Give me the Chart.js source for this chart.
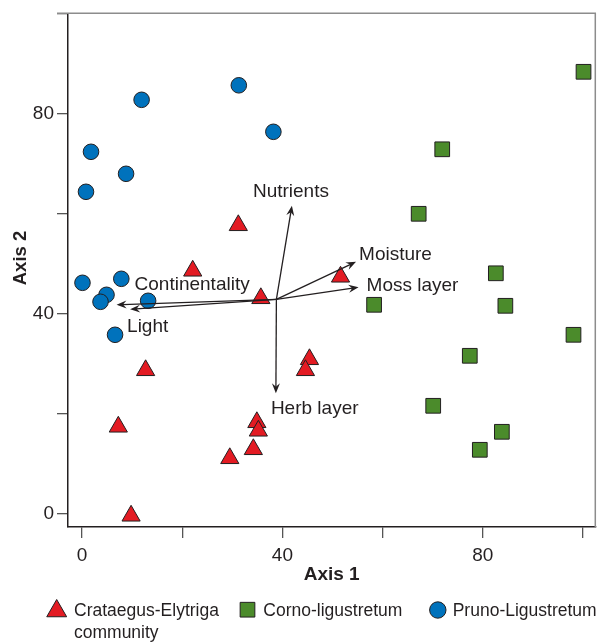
<!DOCTYPE html>
<html>
<head>
<meta charset="utf-8">
<script src="https://cdn.jsdelivr.net/npm/chart.js@4.4.1/dist/chart.umd.min.js"></script>
<style>
  html, body { margin: 0; padding: 0; background: #fff; }
</style>
</head>
<body>
<canvas id="ordination" width="597" height="642"></canvas>
<script>
// site scores
const crataegusX = [31.2, 22.1, 35.7, 51.6, 12.7, 7.25, 34.9, 35.2, 34.2, 29.5, 9.8, 45.4, 44.6];
const crataegusY = [57.6, 48.5, 43.0, 47.3, 28.6, 17.3, 18.2, 16.5, 12.8, 11.0, -0.5, 30.8, 28.6];

const cornoX = [100.1, 71.9, 67.2, 82.6, 58.3, 84.5, 98.1, 77.4, 70.1, 83.8, 79.4];
const cornoY = [88.3, 72.8, 59.9, 48.0, 41.7, 41.5, 35.7, 31.5, 21.5, 16.3, 12.7];

const prunoX = [11.9, 31.3, 38.2, 1.8, 8.8, 0.8, 0.1, 7.85, 4.9, 3.7, 13.2, 6.6];
const prunoY = [82.7, 85.6, 76.3, 72.3, 67.9, 64.3, 46.1, 46.9, 43.7, 42.3, 42.5, 35.7];

// environmental vectors (joint plot)
const vectorNames = ['Nutrients', 'Moisture', 'Moss layer', 'Continentality', 'Light', 'Herb layer'];
const vectorOrigin = [38.8, 42.8];
const vectorX = [41.9, 54.7, 55.2, 6.9, 9.6, 38.7];
const vectorY = [61.5, 50.3, 45.2, 41.7, 40.8, 24.0];

const tickValues = [0, 20, 40, 60, 80, 100];
const tickLabels = [0, 40, 80];

const groupNames = ['Crataegus-Elytriga|community', 'Corno-ligustretum', 'Pruno-Ligustretum'];

// label placement relative to each arrow tip (px)
const labelOffsets = [[-39, -14], [3, -7], [8, -2], [18, -20], [-3, 17], [-5, 15]];

const FONT = "'Liberation Sans', Arial, Helvetica, sans-serif";
const INK = '#231f20';
const RED = '#e31b23', GREEN = '#4b8b2b', BLUE = '#0072bc';

const toPoints = (xs, ys) => xs.map((x, i) => ({ x: x, y: ys[i] }));

function arrowHead(ctx, x1, y1, x2, y2) {
  const a = Math.atan2(y2 - y1, x2 - x1);
  ctx.save();
  ctx.translate(x2, y2);
  ctx.rotate(a);
  ctx.beginPath();
  ctx.moveTo(0, 0);
  ctx.lineTo(-10, -4);
  ctx.lineTo(-6.5, 0);
  ctx.lineTo(-10, 4);
  ctx.closePath();
  ctx.fill();
  ctx.restore();
}

const extras = {
  id: 'extras',
  beforeDatasetsDraw(chart) {
    const { ctx, chartArea: ca } = chart;
    // grey frame on top and right
    ctx.save();
    ctx.strokeStyle = '#8c8c8c';
    ctx.lineWidth = 1.5;
    ctx.beginPath();
    ctx.moveTo(ca.left - 11, ca.top);
    ctx.lineTo(ca.right, ca.top);
    ctx.lineTo(ca.right, ca.bottom);
    ctx.stroke();
    ctx.restore();

    // y axis title (sits a little above the middle in the original)
    ctx.save();
    ctx.translate(20.5, 258);
    ctx.rotate(-Math.PI / 2);
    ctx.fillStyle = INK;
    ctx.font = 'bold 18.5px ' + FONT;
    ctx.textAlign = 'center';
    ctx.textBaseline = 'middle';
    ctx.fillText('Axis 2', 0, 0);
    ctx.restore();
  },
  afterDatasetsDraw(chart) {
    const { ctx, scales: { x, y } } = chart;
    const ox = x.getPixelForValue(vectorOrigin[0]);
    const oy = y.getPixelForValue(vectorOrigin[1]);
    ctx.save();
    ctx.strokeStyle = INK;
    ctx.fillStyle = INK;
    ctx.lineWidth = 1.3;
    vectorNames.forEach((name, i) => {
      const tx = x.getPixelForValue(vectorX[i]);
      const ty = y.getPixelForValue(vectorY[i]);
      const len = Math.hypot(tx - ox, ty - oy);
      const ex = tx - (tx - ox) / len * 6;
      const ey = ty - (ty - oy) / len * 6;
      ctx.beginPath();
      ctx.moveTo(ox, oy);
      ctx.lineTo(ex, ey);
      ctx.stroke();
      arrowHead(ctx, ox, oy, tx, ty);
      ctx.font = '19px ' + FONT;
      ctx.textAlign = 'left';
      ctx.textBaseline = 'middle';
      ctx.fillText(name, tx + labelOffsets[i][0], ty + labelOffsets[i][1]);
    });
    ctx.restore();
  },
  afterDraw(chart) {
    const { ctx } = chart;
    const ds = chart.data.datasets;
    const marks = [[56.7, 611], [247.5, 609.7], [437.8, 610]];
    const textX = [74, 263.3, 452.7];
    ctx.save();
    ds.forEach((d, i) => {
      ctx.fillStyle = d.backgroundColor;
      ctx.strokeStyle = d.borderColor;
      ctx.lineWidth = 1;
      Chart.helpers.drawPoint(ctx, {
        pointStyle: d.pointStyle,
        radius: d.legendRadius,
        rotation: 0,
        borderWidth: 1
      }, marks[i][0], marks[i][1]);
      ctx.fillStyle = INK;
      ctx.font = '17.5px ' + FONT;
      ctx.textAlign = 'left';
      ctx.textBaseline = 'middle';
      groupNames[i].split('|').forEach((line, k) => {
        ctx.fillText(line, textX[i], 610.7 + k * 22.6);
      });
    });
    ctx.restore();
  }
};

const ticksFor = () => ({
  color: INK,
  font: { size: 19, family: FONT },
  autoSkip: false,
  maxRotation: 0,
  callback: v => tickLabels.includes(v) ? String(v) : ''
});

const noPad = s => { s.paddingLeft = 0; s.paddingRight = 0; s.paddingTop = 0; s.paddingBottom = 0; };

new Chart(document.getElementById('ordination'), {
  type: 'scatter',
  data: {
    datasets: [
      {
        label: 'Crataegus-Elytriga community',
        data: toPoints(crataegusX, crataegusY),
        pointStyle: 'triangle',
        pointRadius: 10.5,
        legendRadius: 11.5,
        backgroundColor: RED,
        borderColor: INK,
        borderWidth: 1
      },
      {
        label: 'Corno-ligustretum',
        data: toPoints(cornoX, cornoY),
        pointStyle: 'rect',
        pointRadius: 10.4,
        legendRadius: 10.4,
        backgroundColor: GREEN,
        borderColor: INK,
        borderWidth: 1
      },
      {
        label: 'Pruno-Ligustretum',
        data: toPoints(prunoX, prunoY),
        pointStyle: 'circle',
        pointRadius: 7.8,
        legendRadius: 8.2,
        backgroundColor: BLUE,
        borderColor: INK,
        borderWidth: 1
      }
    ]
  },
  options: {
    responsive: false,
    animation: false,
    clip: false,
    layout: { autoPadding: false, padding: { left: 0, top: 13.3, right: 1.7, bottom: 0 } },
    plugins: {
      legend: { display: false },
      tooltip: { enabled: false }
    },
    elements: { point: { hoverRadius: 0 } },
    scales: {
      x: {
        type: 'linear',
        min: -2.79,
        max: 102.45,
        afterBuildTicks: s => { s.ticks = tickValues.map(v => ({ value: v })); },
        afterFit: s => { s.height = 115; noPad(s); },
        border: { color: INK, width: 1.5 },
        grid: { drawOnChartArea: false, drawTicks: true, tickLength: 11, color: '#555', lineWidth: 1.3 },
        ticks: Object.assign(ticksFor(), { padding: 6 }),
        title: {
          display: true,
          text: 'Axis 1',
          color: INK,
          font: { size: 19, weight: 'bold', family: FONT },
          padding: { top: 0, bottom: 56 }
        }
      },
      y: {
        type: 'linear',
        min: -2.74,
        max: 100,
        afterBuildTicks: s => { s.ticks = tickValues.map(v => ({ value: v })); },
        afterFit: s => { s.width = 68; noPad(s); },
        border: { color: INK, width: 1.5 },
        grid: { drawOnChartArea: false, drawTicks: true, tickLength: 11, color: '#555', lineWidth: 1.3 },
        ticks: Object.assign(ticksFor(), { padding: 3 }),
        title: { display: false }
      }
    }
  },
  plugins: [extras]
});
</script>
</body>
</html>
